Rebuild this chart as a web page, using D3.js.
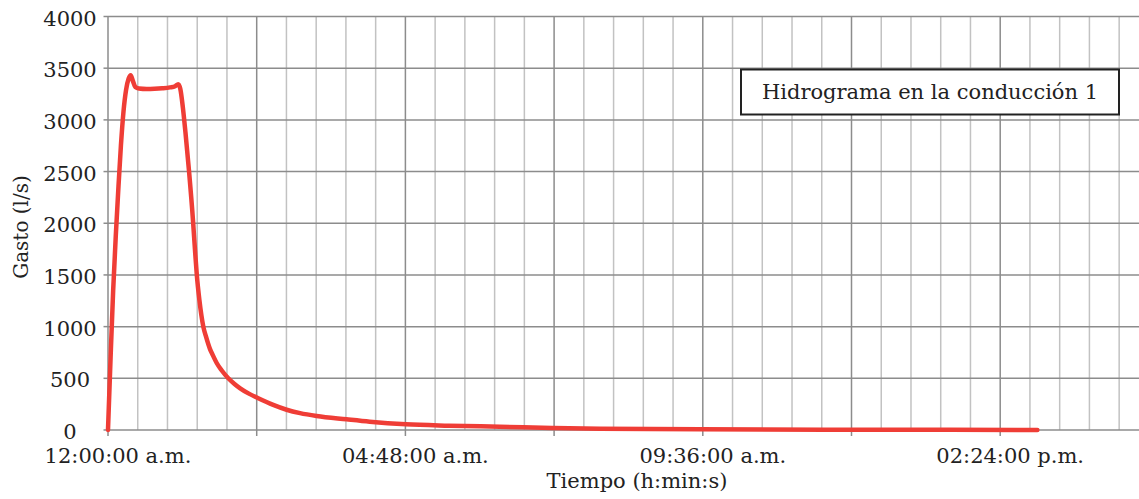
<!DOCTYPE html>
<html>
<head>
<meta charset="utf-8">
<script src="https://cdn.jsdelivr.net/npm/d3@7"></script>
<style>
  html, body { margin: 0; padding: 0; background: #fff; }
  svg { display: block; }
  text { font-family: "DejaVu Serif", serif; fill: #222; }
</style>
</head>
<body>
<svg id="chart" width="1139" height="499"></svg>
<script>
// ---- data (time in minutes since 12:00:00 a.m., flow in l/s) ----
const timeMinutes = [0, 5, 10, 15, 20, 25, 30, 35, 40, 44, 48, 53, 60, 75, 90, 105, 120, 130, 136,
  140, 145, 150, 157, 165, 168.5, 172, 177, 184.6, 190, 197.4, 203, 210.5, 220, 233, 245, 256, 272, 290, 320, 346, 372, 404, 462, 507,
  577, 660, 759, 860, 953, 1147, 1437, 1800];
const flowLps = [0, 700, 1350, 1870, 2330, 2750, 3080, 3290, 3400, 3432, 3380, 3318, 3303, 3298, 3300, 3305, 3314, 3326, 3345,
  3300, 3120, 2880, 2500, 2000, 1741, 1500, 1257, 1000, 900, 785, 724, 648, 578, 500, 445, 403, 354, 310, 243, 196, 163, 135, 103, 80,
  55, 42, 32, 20, 12, 7, 3, 1];
const yTicks = [0, 500, 1000, 1500, 2000, 2500, 3000, 3500, 4000];
const xLabelMinutes = [0, 576, 1152, 1728];
const xLabels = ["12:00:00 a.m.", "04:48:00 a.m.", "09:36:00 a.m.", "02:24:00 p.m."];
const seriesName = "Hidrograma en la conducción 1";
const xTitle = "Tiempo (h:min:s)";
const yTitle = "Gasto (l/s)";

(function () {
const svg = d3.select("#chart");
const plotLeft = 108, plotBottom = 430, plotTop = 16.5;
const pxPerMin = 148.7 / 288;
const xMax = 2016;
const x = d3.scaleLinear().domain([0, xMax]).range([plotLeft, plotLeft + xMax * pxPerMin]);
const y = d3.scaleLinear().domain([0, 4000]).range([plotBottom, plotTop]);

const minorStep = 57.6, majorStep = 288;
const minorTicks = d3.range(0, xMax + 0.01, minorStep);
const majorTicks = d3.range(0, xMax + 0.01, majorStep);

// minor vertical grid
svg.append("g").selectAll("line").data(minorTicks.filter(t => Math.abs(t / majorStep - Math.round(t / majorStep)) > 1e-6))
  .join("line")
  .attr("x1", d => x(d)).attr("x2", d => x(d))
  .attr("y1", y(4000)).attr("y2", y(0))
  .attr("stroke", "#c2c2c2").attr("stroke-width", 1.5);
// major vertical grid
svg.append("g").selectAll("line").data(majorTicks.filter(t => t > 0))
  .join("line")
  .attr("x1", d => x(d)).attr("x2", d => x(d))
  .attr("y1", y(4000)).attr("y2", y(0))
  .attr("stroke", "#8c8c8c").attr("stroke-width", 1.5);
// horizontal grid
svg.append("g").selectAll("line").data(yTicks)
  .join("line")
  .attr("x1", x(0)).attr("x2", 1139)
  .attr("y1", d => y(d)).attr("y2", d => y(d))
  .attr("stroke", "#8c8c8c").attr("stroke-width", 1.5);

// axes lines and ticks
svg.append("line").attr("x1", x(0)).attr("x2", x(0)).attr("y1", y(4000)).attr("y2", y(0))
  .attr("stroke", "#8c8c8c").attr("stroke-width", 1.5);
svg.append("g").selectAll("line").data(yTicks).join("line")
  .attr("x1", x(0) - 4.5).attr("x2", x(0))
  .attr("y1", d => y(d)).attr("y2", d => y(d))
  .attr("stroke", "#8c8c8c").attr("stroke-width", 1.5);
svg.append("g").selectAll("line").data(majorTicks).join("line")
  .attr("x1", d => x(d)).attr("x2", d => x(d))
  .attr("y1", y(0)).attr("y2", y(0) + 6)
  .attr("stroke", "#8c8c8c").attr("stroke-width", 1.5);

// y tick labels
svg.append("g").selectAll("text").data(yTicks).join("text")
  .attr("x", 70).attr("y", d => y(d) + 2)
  .attr("text-anchor", "middle").attr("dominant-baseline", "central")
  .attr("font-size", 21).text(d => d);

// x tick labels
svg.append("g").selectAll("text").data(xLabelMinutes).join("text")
  .attr("x", d => x(d) + 10).attr("y", 463)
  .attr("text-anchor", "middle").attr("font-size", 21)
  .text((d, i) => xLabels[i]);

// axis titles
svg.append("text").attr("x", 637).attr("y", 488).attr("text-anchor", "middle")
  .attr("font-size", 21).text(xTitle);
svg.append("text").attr("transform", "translate(28,227) rotate(-90)")
  .attr("text-anchor", "middle").attr("font-size", 20).text(yTitle);

// series line
const line = d3.line().x((d, i) => x(timeMinutes[i])).y(d => y(d)).curve(d3.curveMonotoneX);
svg.append("path").datum(flowLps)
  .attr("d", line)
  .attr("fill", "none").attr("stroke", "#ef3d36").attr("stroke-width", 4.5)
  .attr("stroke-linejoin", "round").attr("stroke-linecap", "round");

// legend
svg.append("rect").attr("x", 741).attr("y", 69.5).attr("width", 378).attr("height", 45)
  .attr("fill", "#fff").attr("stroke", "#222").attr("stroke-width", 2);
svg.append("text").attr("x", 930).attr("y", 92).attr("text-anchor", "middle")
  .attr("dominant-baseline", "central").attr("font-size", 21).text(seriesName);
})();
</script>
</body>
</html>
